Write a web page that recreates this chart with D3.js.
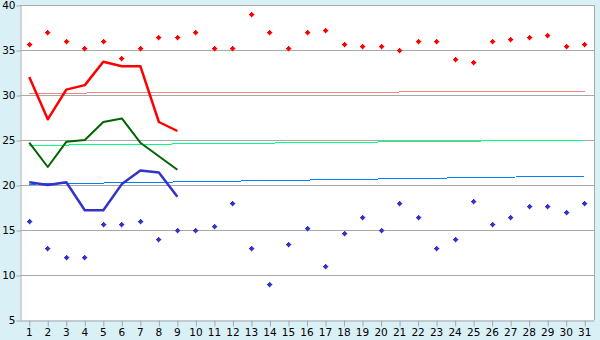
<!DOCTYPE html>
<html>
<head>
<meta charset="utf-8">
<script src="https://cdn.jsdelivr.net/npm/d3@7"></script>
<style>
  body { margin: 0; background: #d9f0f7; }
  svg { display: block; }
  .axis text { font-family: "DejaVu Sans", Verdana, sans-serif; font-size: 10.5px; fill: #000; }
  .axis path, .axis line { stroke: #a8a8a8; }
</style>
</head>
<body>
<div id="chart-area"></div>
<script>
// days of month
var days = d3.range(1, 32);
var yTicks = [5, 10, 15, 20, 25, 30, 35, 40];

// daily max / min (points)
var maxPts = [35.6, 37.0, 35.9, 35.2, 36.0, 34.0, 35.2, 36.4, 36.4, 37.0,
              35.2, 35.2, 38.9, 37.0, 35.2, 37.0, 37.2, 35.6, 35.4, 35.4,
              35.0, 36.0, 36.0, 33.9, 33.6, 35.9, 36.2, 36.4, 36.6, 35.4, 35.6];
var minPts = [16.0, 13.0, 12.0, 12.0, 15.6, 15.6, 16.0, 14.0, 15.0, 15.0,
              15.4, 17.9, 13.0, 9.0, 13.4, 15.2, 11.0, 14.6, 16.4, 15.0,
              18.0, 16.4, 12.9, 14.0, 18.2, 15.6, 16.4, 17.6, 17.6, 17.0, 18.0];

// current readings (days 1-9)
var maxLine = [32.0, 27.3, 30.6, 31.1, 33.7, 33.2, 33.2, 27.0, 26.0];
var avgLine = [24.7, 22.0, 24.8, 25.0, 27.0, 27.4, 24.7, 23.2, 21.7];
var minLine = [20.3, 20.0, 20.3, 17.2, 17.2, 20.1, 21.6, 21.4, 18.7];

// normals (day 1 -> day 31)
var normDays = [1, 31];
var normMax = [30.2, 30.4];
var normAvg = [24.4, 25.0];
var normMin = [20.1, 21.0];

var W = 600, H = 340;
var margin = { left: 20, right: 6, top: 5, bottom: 20 };
var width = W - margin.left - margin.right,
    height = H - margin.top - margin.bottom;

var svg = d3.select("#chart-area")
    .append("svg")
        .attr("width", W)
        .attr("height", H);

var g = svg.append("g")
    .attr("transform", "translate(" + margin.left + "," + margin.top + ")");

var x = d3.scaleBand()
    .domain(days)
    .range([0, width]);

var y = d3.scaleLinear()
    .domain([5, 40])
    .range([height, 0]);

function cx(d) { return x(d) + x.bandwidth() / 2; }

// plot background
g.append("rect")
    .attr("width", width)
    .attr("height", height)
    .attr("fill", "#fff");

// grid
g.selectAll(".grid")
    .data(yTicks.slice(1))
    .enter().append("line")
        .attr("class", "grid")
        .attr("x1", 0)
        .attr("x2", width + 0.5)
        .attr("y1", function(d){ return Math.round(y(d)) + 0.5; })
        .attr("y2", function(d){ return Math.round(y(d)) + 0.5; })
        .attr("stroke", "#a8a8a8");

// right border
g.append("line")
    .attr("x1", width + 0.5).attr("x2", width + 0.5)
    .attr("y1", 0).attr("y2", height)
    .attr("stroke", "#a8a8a8");

// axes
var xAxis = g.append("g")
    .attr("class", "axis")
    .attr("transform", "translate(0," + (height + 0.5) + ")")
    .call(d3.axisBottom(x).tickSize(6).tickPadding(2).tickSizeOuter(0));

var yAxis = g.append("g")
    .attr("class", "axis")
    .attr("transform", "translate(0.5,0)")
    .call(d3.axisLeft(y).tickValues(yTicks).tickSize(4).tickPadding(1).tickSizeOuter(0));

yAxis.selectAll(".tick line").attr("transform", "translate(0,0.5)");
xAxis.selectAll(".tick line").attr("transform", "translate(0.5,0)");

// normals
function normLine(vals, col) {
    var pts = normDays.map(function(d, i){ return [cx(d), y(vals[i])]; });
    g.append("path")
        .attr("d", d3.line()(pts))
        .attr("fill", "none")
        .attr("stroke", col)
        .attr("stroke-width", 1)
        .attr("shape-rendering", "crispEdges");
}
normLine(normMax, "#ff8080");
normLine(normAvg, "#00ff80");
normLine(normMin, "#0080ff");

// current lines
var line = d3.line()
    .x(function(d, i){ return cx(days[i]); })
    .y(function(d){ return y(d); });

function drawLine(vals, col, w) {
    g.append("path")
        .datum(vals)
        .attr("d", line)
        .attr("fill", "none")
        .attr("stroke", col)
        .attr("stroke-width", w)
        .attr("stroke-linejoin", "round");
}
drawLine(maxLine, "#ff0000", 2.5);
drawLine(avgLine, "#006400", 2);
drawLine(minLine, "#3333cc", 2.5);

// markers: 5px pixel diamond
var marker = "M-0.5,-2.5h1v1h1v1h1v1h-1v1h-1v1h-1v-1h-1v-1h-1v-1h1v-1h1z";

function drawPts(vals, col) {
    g.append("g").selectAll("path")
        .data(vals)
        .enter().append("path")
            .attr("d", marker)
            .attr("transform", function(d, i){
                return "translate(" + (Math.floor(cx(days[i])) + 0.5) + "," + (Math.floor(y(d)) + 0.5) + ")";
            })
            .attr("fill", col)
            .attr("stroke", col)
            .attr("stroke-width", 0.3)
            .attr("shape-rendering", "crispEdges");
}
drawPts(maxPts, "#ff0000");
drawPts(minPts, "#3333cc");
</script>
</body>
</html>
